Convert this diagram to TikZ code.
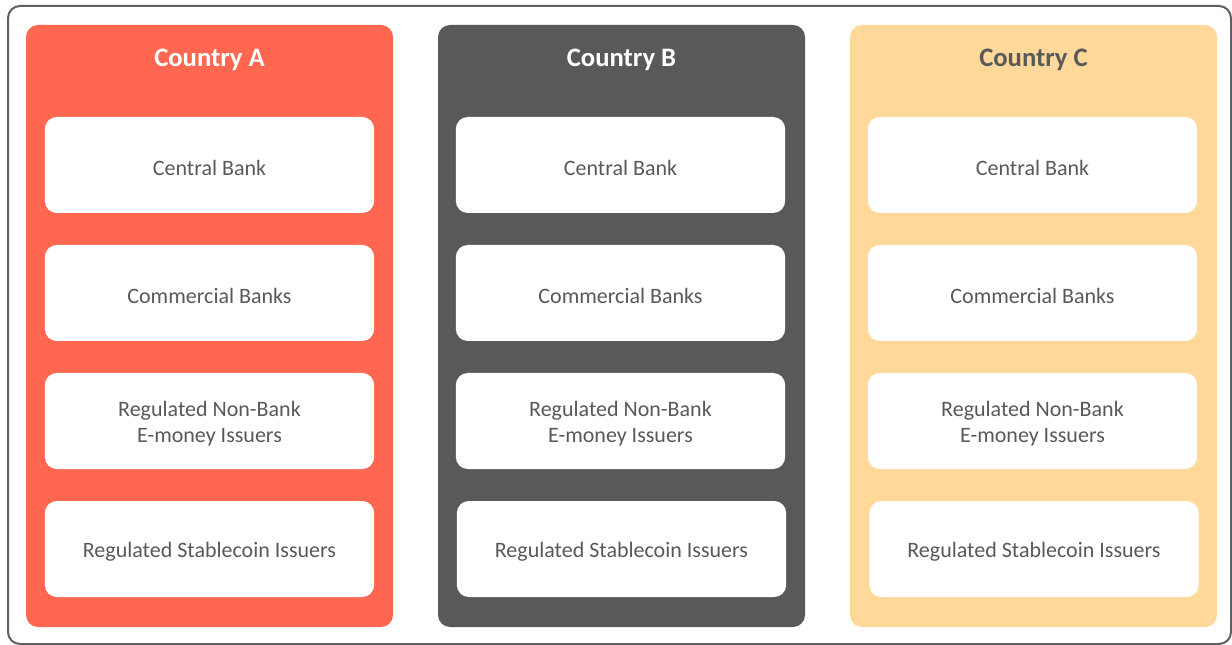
\documentclass[tikz,border=0pt]{standalone}
\usepackage{fontspec}
\setmainfont{Carlito}
\definecolor{colA}{HTML}{FF6750}
\definecolor{colB}{HTML}{595957}
\definecolor{colC}{HTML}{FFD89A}
\definecolor{txt}{HTML}{595959}
\definecolor{frame}{HTML}{606060}
\tikzset{
  country/.style={rounded corners=9pt, inner sep=0pt},
  entity/.style={fill=white, rounded corners=9pt, minimum width=247pt, minimum height=72pt, inner sep=0pt},
  label text/.style={align=center, text=txt, font=\fontsize{16.5}{19.5}\selectfont, inner sep=0pt, yshift=-1.9pt},
  title/.style={font=\bfseries\fontsize{20}{24}\selectfont}
}
\begin{document}
\begin{tikzpicture}[x=0.75pt,y=-0.75pt]
\useasboundingbox (0,0) rectangle (1232,645);
\draw[frame, line width=1.5pt, rounded corners=9pt] (8,6) rectangle (1231,644);
% columns
\fill[colA, country] (26,25) rectangle (393,627);
\fill[colB, country] (438,25) rectangle (805,627);
\fill[colC, country] (850,25) rectangle (1217,627);
\node[title, text=white] (tA) at (209.5,60) {Country A};
\node[title, text=white] (tB) at (621.5,60) {Country B};
\node[title, text=txt] (tC) at (1033.5,60) {Country C};
% Country A
\node[entity] (a1) at (209.5,165) {};
\node[entity] (a2) at (209.5,293) {};
\node[entity] (a3) at (209.5,421) {};
\node[entity] (a4) at (209.5,549) {};
% Country B
\node[entity] (b1) at (620.5,165) {};
\node[entity] (b2) at (620.5,293) {};
\node[entity] (b3) at (620.5,421) {};
\node[entity] (b4) at (621.5,549) {};
% Country C
\node[entity] (c1) at (1032.5,165) {};
\node[entity] (c2) at (1032.5,293) {};
\node[entity] (c3) at (1032.5,421) {};
\node[entity] (c4) at (1034,549) {};
% texts
\foreach \c in {a,b,c}{
  \node[label text] (\c1t) at (\c1.center) {Central Bank};
  \node[label text] (\c2t) at (\c2.center) {Commercial Banks};
  \node[label text] (\c3t) at (\c3.center) {Regulated Non-Bank\\E-money Issuers};
  \node[label text] (\c4t) at (\c4.center) {Regulated Stablecoin Issuers};
}
\end{tikzpicture}
\end{document}
